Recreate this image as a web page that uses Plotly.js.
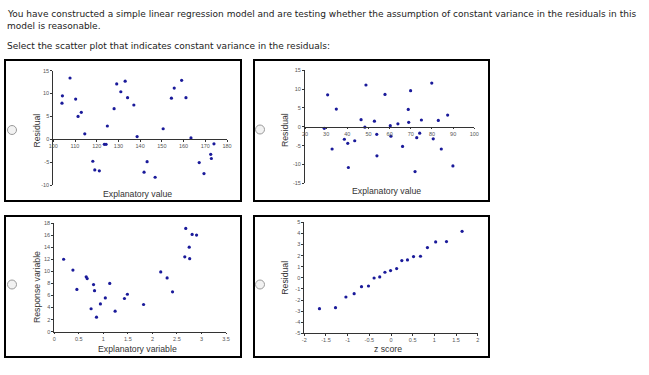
<!DOCTYPE html>
<html>
<head>
<meta charset="utf-8">
<script src="https://cdn.plot.ly/plotly-3.0.1.min.js"></script>
<style>
html,body{margin:0;padding:0;background:#fff;}
#chart{width:649px;height:375px;}
</style>
</head>
<body>
<div id="chart"></div>
<script>
// ---------- Data ----------
const headerLines = [
  "You have constructed a simple linear regression model and are testing whether the assumption of constant variance in the residuals in this",
  "model is reasonable.",
  "Select the scatter plot that indicates constant variance in the residuals:"
];

// Panel 1: residual vs explanatory value (100-180)
const p1X = [104.0,104.2,107.7,110.3,111.4,112.9,114.5,118.2,119.1,121.2,123.5,124.3,124.9,128.0,129.2,131.1,133.1,134.2,137.1,138.6,141.8,143.2,146.9,150.6,154.4,155.7,159.1,161.1,163.4,167.2,169.4,172.5,172.8,174.0];
const p1Y = [7.9,9.5,13.4,8.8,5.0,5.9,1.2,-4.8,-6.7,-6.9,-1.1,-1.1,2.9,6.7,12.1,10.4,12.7,9.1,7.5,0.6,-7.2,-4.9,-8.3,2.3,9.0,11.2,12.9,9.1,0.3,-5.1,-7.5,-3.3,-4.2,-1.0];
const p1XTicks = [100,110,120,130,140,150,160,170,180];
const p1XTickText = ["100","110","120","130","140","150","160","170","180"];
const p1YTicks = [-10,-5,0,5,10,15];
const p1YTickText = ["-10","-5","0","5","10","15"];

// Panel 2: residual vs explanatory value (20-100)
const p2X = [29.1,30.7,32.8,34.8,38.6,40.2,40.5,43.5,46.5,48.3,48.8,52.8,53.9,54.0,57.8,60.3,60.6,63.9,66.1,68.8,69.0,69.9,72.0,72.8,74.2,75.0,79.9,80.6,83.0,84.4,87.4,89.9];
const p2Y = [-0.4,8.5,-5.9,4.7,-3.3,-4.4,-10.8,-3.7,1.9,-0.1,11.1,1.5,-2.0,-7.7,8.6,0.3,-2.5,0.8,-5.2,4.6,1.2,9.6,-11.9,-2.9,-1.7,1.8,11.6,-3.2,1.7,-5.9,3.1,-10.4];
const p2XTicks = [20,30,40,50,60,70,80,90,100];
const p2XTickText = ["20","30","40","50","60","70","80","90","100"];
const p2YTicks = [-15,-10,-5,0,5,10,15];
const p2YTickText = ["-15","-10","-5","0","5","10","15"];

// Panel 3: response vs explanatory variable
const p3X = [0.19,0.38,0.46,0.65,0.67,0.80,0.82,0.75,0.86,0.94,1.04,1.13,1.24,1.43,1.49,1.82,2.17,2.30,2.41,2.66,2.76,2.75,2.68,2.81,2.90];
const p3Y = [12.0,10.2,7.0,9.1,8.8,7.8,6.8,3.8,2.4,4.6,5.6,8.0,3.4,5.5,6.2,4.5,9.9,8.9,6.6,12.4,12.1,14.0,17.1,16.1,16.0];
const p3XTicks = [0,0.5,1,1.5,2,2.5,3,3.5];
const p3XTickText = ["0","0.5","1","1.5","2","2.5","3","3.5"];
const p3YTicks = [0,2,4,6,8,10,12,14,16,18];
const p3YTickText = ["0","2","4","6","8","10","12","14","16","18"];

// Panel 4: residual vs z score
const p4X = [-1.65,-1.28,-1.04,-0.85,-0.68,-0.52,-0.39,-0.26,-0.14,-0.01,0.13,0.25,0.38,0.52,0.68,0.84,1.03,1.28,1.64];
const p4Y = [-2.78,-2.69,-1.73,-1.43,-0.80,-0.74,-0.02,0.08,0.50,0.65,0.83,1.55,1.61,1.91,1.94,2.72,3.23,3.26,4.19];
const p4XTicks = [-2,-1.5,-1,-0.5,0,0.5,1,1.5,2];
const p4XTickText = ["-2","-1.5","-1","-0.5","0","0.5","1","1.5","2"];
const p4YTicks = [-5,-4,-3,-2,-1,0,1,2,3,4,5];
const p4YTickText = ["-5","-4","-3","-2","-1","0","1","2","3","4","5"];

// ---------- Layout helpers ----------
const W = 649, H = 375;
const fx = px => px / W;
const fy = py => 1 - py / H;

const markerStyle = {size: 3.2, color: "#1a1a9a", symbol: "circle"};
const tickFont = {family: "Liberation Sans, Arial, sans-serif", size: 5.5, color: "#555"};
const titleFont = {family: "Liberation Sans, Arial, sans-serif", size: 8.7, color: "#333"};

function axisBase(tv, tt, range) {
  return {
    range: range, tickmode: "array", tickvals: tv, ticktext: tt,
    showgrid: false, zeroline: false, showline: true, linecolor: "#333", linewidth: 1,
    ticks: "outside", ticklen: 2, tickwidth: 1, tickcolor: "#333",
    tickfont: tickFont, tickangle: 0, fixedrange: true, automargin: false
  };
}

// panel pixel geometry: [xpx0, xpx1, ypxBottom, ypxTop]
const geo = {
  1: [53.3, 227.0, 185.0, 70.7],
  2: [305.0, 474.3, 183.3, 70.3],
  3: [54.3, 226.0, 331.7, 223.0],
  4: [304.3, 477.7, 333.3, 222.3]
};

const ranges = {
  1: {x: [100, 180], y: [-10, 15]},
  2: {x: [20, 100], y: [-15, 15]},
  3: {x: [0, 3.5], y: [0, 18]},
  4: {x: [-2, 2], y: [-5, 5]}
};

const ticks = {
  1: [p1XTicks, p1XTickText, p1YTicks, p1YTickText],
  2: [p2XTicks, p2XTickText, p2YTicks, p2YTickText],
  3: [p3XTicks, p3XTickText, p3YTicks, p3YTickText],
  4: [p4XTicks, p4XTickText, p4YTicks, p4YTickText]
};

const layout = {
  width: W, height: H,
  margin: {l: 0, r: 0, t: 0, b: 0},
  paper_bgcolor: "#fff", plot_bgcolor: "rgba(0,0,0,0)",
  showlegend: false,
  shapes: [], annotations: []
};

[1,2,3,4].forEach(i => {
  const g = geo[i];
  const xd = [fx(g[0]), fx(g[1])];
  const yd = [fy(g[2]), fy(g[3])];
  const r = ranges[i];
  const t = ticks[i];
  const xa = axisBase(t[0], t[1], r.x);
  xa.domain = xd;
  xa.ticklen = 1.5;
  const ya = axisBase(t[2], t[3], r.y);
  ya.domain = yd;
  ya.anchor = "x" + (i === 1 ? "" : i);
  if (i <= 2) {
    // x axis crosses at y = 0
    xa.anchor = "free";
    xa.position = yd[0] + (0 - r.y[0]) / (r.y[1] - r.y[0]) * (yd[1] - yd[0]);
  } else {
    xa.anchor = "y" + i;
  }
  const sfx = i === 1 ? "" : String(i);
  layout["xaxis" + sfx] = xa;
  layout["yaxis" + sfx] = ya;
});

// panel boxes
const boxes = [[5, 60, 241, 201], [254, 60, 489, 201], [5, 216, 241, 357], [254, 216, 489, 357]];
boxes.forEach(b => {
  layout.shapes.push({type: "rect", xref: "paper", yref: "paper",
    x0: fx(b[0]), x1: fx(b[2]), y0: fy(b[3]), y1: fy(b[1]),
    line: {color: "#000", width: 2}, fillcolor: "rgba(0,0,0,0)", layer: "below"});
});

// radio buttons
const radios = [[12, 130], [260, 129.5], [12, 284.5], [260, 284.5]];
radios.forEach(c => {
  const rr = 4.5;
  layout.shapes.push({type: "circle", xref: "paper", yref: "paper",
    x0: fx(c[0] - rr), x1: fx(c[0] + rr), y0: fy(c[1] + rr), y1: fy(c[1] - rr),
    line: {color: "#9a9a9a", width: 1}, fillcolor: "#f2f2f2"});
});

// header text
const headerY = [14, 26, 46];
headerLines.forEach((s, k) => {
  layout.annotations.push({text: s, xref: "paper", yref: "paper",
    x: fx(5), y: fy(headerY[k]), xanchor: "left", yanchor: "middle", showarrow: false,
    font: {family: "DejaVu Sans, Verdana, sans-serif", size: 9.0, color: "#222"}});
});

// axis titles
const axisTitles = [
  ["Residual", 36, 130.5, -90],
  ["Explanatory value", 137, 194, 0],
  ["Residual", 285, 130, -90],
  ["Explanatory value", 386, 190.5, 0],
  ["Response variable", 36.3, 286.7, -90],
  ["Explanatory variable", 137, 348.5, 0],
  ["Residual", 284.7, 278, -90],
  ["z score", 388, 348.5, 0]
];
axisTitles.forEach(a => {
  layout.annotations.push({text: a[0], xref: "paper", yref: "paper",
    x: fx(a[1]), y: fy(a[2]), xanchor: "center", yanchor: "middle", showarrow: false,
    textangle: a[3], font: titleFont});
});

const data = [
  {x: p1X, y: p1Y, xaxis: "x", yaxis: "y"},
  {x: p2X, y: p2Y, xaxis: "x2", yaxis: "y2"},
  {x: p3X, y: p3Y, xaxis: "x3", yaxis: "y3"},
  {x: p4X, y: p4Y, xaxis: "x4", yaxis: "y4"}
].map(tr => Object.assign(tr, {type: "scatter", mode: "markers", marker: markerStyle, hoverinfo: "skip", cliponaxis: false}));

Plotly.newPlot("chart", data, layout, {staticPlot: true, displayModeBar: false});
</script>
</body>
</html>
